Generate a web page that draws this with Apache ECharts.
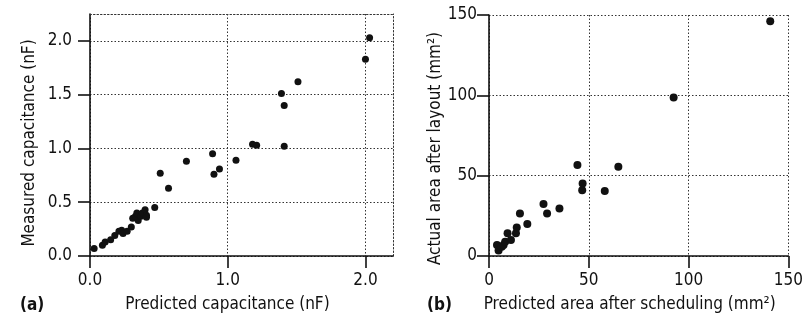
<!DOCTYPE html>
<html>
<head>
<meta charset="utf-8">
<script src="https://cdn.jsdelivr.net/npm/echarts@6/dist/echarts.min.js"></script>
<style>
  html, body { margin: 0; padding: 0; background: #fff; }
  #chart { width: 806px; height: 322px; }
</style>
</head>
<body>
<div id="chart"></div>
<script>
// (a) predicted vs measured capacitance, nF
const capPredicted = [0.03, 0.09, 0.11, 0.15, 0.18, 0.21, 0.23, 0.24, 0.27, 0.30, 0.31, 0.33, 0.34, 0.35, 0.37, 0.38, 0.40, 0.41, 0.41, 0.47,
  0.51, 0.57, 0.70, 0.89, 0.90, 0.94, 1.06, 1.18, 1.21, 1.39, 1.41, 1.41, 1.51, 2.00, 2.03]
const capMeasured = [0.07, 0.10, 0.13, 0.15, 0.19, 0.23, 0.24, 0.21, 0.23, 0.27, 0.35, 0.37, 0.40, 0.33, 0.37, 0.40, 0.43, 0.38, 0.36, 0.45,
  0.77, 0.63, 0.88, 0.95, 0.76, 0.81, 0.89, 1.04, 1.03, 1.51, 1.40, 1.02, 1.62, 1.83, 2.03]

// (b) predicted area after scheduling vs actual area after layout, mm2
const areaPredicted = [4.0, 4.8, 6.4, 7.3, 8.1, 9.3, 11.0, 13.5, 13.9, 15.5, 19.2, 27.3, 29.1, 35.3, 44.3, 46.9, 46.7, 58.0, 64.8, 92.5, 140.9]
const areaActual = [6.8, 3.5, 5.8, 6.8, 8.9, 14.1, 10.0, 14.1, 17.8, 26.5, 19.9, 32.3, 26.5, 29.6, 56.6, 45.2, 41.0, 40.4, 55.5, 98.6, 146.1]

const capXTicks = [0, 1, 2]
const capYTicks = [0, 0.5, 1, 1.5, 2]
const areaTicks = [0, 50, 100, 150]

const FONT = '"Liberation Sans Narrow", "DejaVu Sans Condensed", sans-serif'
const INK = '#111'
const DOTS = { color: '#333', type: [1.5, 2], width: 1 }

const gridLine = { show: true, lineStyle: DOTS }
const axisLine = { show: true, onZero: false, lineStyle: { color: INK, width: 1.6 } }
const tick = (values) => ({ show: true, length: 12, customValues: values, lineStyle: { color: INK, width: 1.6 } })
const label = (values, margin, digits) => ({
  customValues: values, margin, color: INK, fontFamily: FONT, fontSize: 17,
  formatter: (v) => digits ? Number(v).toFixed(digits) : String(v),
})
const nameStyle = (padding) => ({ color: INK, fontFamily: FONT, fontSize: 17, padding })
// dotted frame on the far sides of panel (a), whose max is not on a split line
const frame = (position) => ({
  gridIndex: 0, type: 'value', position, min: 0, max: 1,
  axisLine: { show: true, onZero: false, lineStyle: DOTS },
  axisTick: { show: false }, axisLabel: { show: false }, splitLine: { show: false },
})

const pairs = (xs, ys) => xs.map((x, i) => [x, ys[i]])

const chart = echarts.init(document.getElementById('chart'))
chart.setOption({
  animation: false,
  backgroundColor: '#fff',
  grid: [
    { left: 90, top: 14, width: 303, height: 242 },
    { left: 489, top: 15, width: 303, height: 241 },
  ],
  xAxis: [
    {
      gridIndex: 0, type: 'value', min: 0, max: 2.2, interval: 0.5,
      name: 'Predicted capacitance (nF)', nameLocation: 'middle', nameGap: 40,
      nameTextStyle: nameStyle([0, 28, 0, 0]),
      axisLine, axisTick: tick(capXTicks), axisLabel: label(capXTicks, 16, 1), splitLine: gridLine,
    },
    {
      gridIndex: 1, type: 'value', min: 0, max: 150, interval: 50,
      name: 'Predicted area after scheduling (mm²)', nameLocation: 'middle', nameGap: 40,
      nameTextStyle: nameStyle([0, 18, 0, 0]),
      axisLine, axisTick: tick(areaTicks), axisLabel: label(areaTicks, 16, 0), splitLine: gridLine,
    },
    frame('top'),
  ],
  yAxis: [
    {
      gridIndex: 0, type: 'value', min: 0, max: 2.25, interval: 0.5,
      name: 'Measured capacitance (nF)', nameLocation: 'middle', nameGap: 52,
      nameTextStyle: nameStyle([0, 16, 0, 0]),
      axisLine, axisTick: tick(capYTicks), axisLabel: label(capYTicks, 18, 1), splitLine: gridLine,
    },
    {
      gridIndex: 1, type: 'value', min: 0, max: 150, interval: 50,
      name: 'Actual area after layout (mm²)', nameLocation: 'middle', nameGap: 43,
      nameTextStyle: nameStyle([0, 26, 0, 0]),
      axisLine, axisTick: tick(areaTicks), axisLabel: label(areaTicks, 12, 0), splitLine: gridLine,
    },
    frame('right'),
  ],
  series: [
    {
      type: 'scatter', xAxisIndex: 0, yAxisIndex: 0, symbolSize: 7,
      itemStyle: { color: INK, opacity: 1 }, data: pairs(capPredicted, capMeasured),
    },
    {
      type: 'scatter', xAxisIndex: 1, yAxisIndex: 1, symbolSize: 8,
      itemStyle: { color: INK, opacity: 1 }, data: pairs(areaPredicted, areaActual),
    },
  ],
  graphic: [
    { type: 'text', left: 20, top: 297, style: { text: '(a)', fill: INK, font: 'bold 17px ' + FONT } },
    { type: 'text', left: 427, top: 297, style: { text: '(b)', fill: INK, font: 'bold 17px ' + FONT } },
  ],
})
</script>
</body>
</html>
